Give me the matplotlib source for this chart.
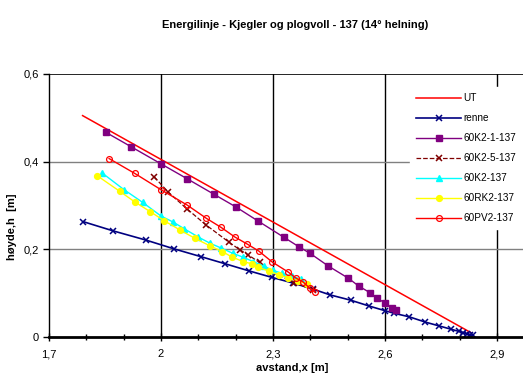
import matplotlib
matplotlib.use('Agg')
import matplotlib.pyplot as plt
from matplotlib.ticker import FixedLocator, MultipleLocator, FuncFormatter

plt.rcParams['font.family'] = ['Liberation Sans', 'DejaVu Sans']

# energy line (UT)
ut_x = [1.790, 2.830]
ut_y = [0.505, 0.010]

renne_x = [1.792, 1.872, 1.960, 2.035, 2.108, 2.172, 2.235, 2.297, 2.354, 2.408,
           2.453, 2.508, 2.556, 2.600, 2.625, 2.665, 2.708, 2.746, 2.776, 2.797,
           2.810, 2.819, 2.828, 2.835]
renne_y = [0.263, 0.242, 0.221, 0.201, 0.183, 0.167, 0.151, 0.136, 0.123, 0.109,
           0.096, 0.084, 0.071, 0.060, 0.054, 0.046, 0.034, 0.025, 0.018, 0.013,
           0.010, 0.007, 0.005, 0.004]

k21_x = [1.852, 1.920, 2.000, 2.070, 2.141, 2.200, 2.261, 2.330, 2.371, 2.399,
         2.448, 2.502, 2.530, 2.560, 2.579, 2.600, 2.618, 2.630]
k21_y = [0.467, 0.434, 0.395, 0.361, 0.326, 0.297, 0.264, 0.227, 0.205, 0.191,
         0.162, 0.134, 0.116, 0.101, 0.088, 0.078, 0.065, 0.062]

k25_x = [1.982, 2.020, 2.070, 2.120, 2.181, 2.211, 2.234, 2.264, 2.296, 2.357, 2.408]
k25_y = [0.365, 0.330, 0.292, 0.256, 0.217, 0.199, 0.187, 0.170, 0.149, 0.124, 0.107]

k2_x = [1.841, 1.901, 1.951, 2.000, 2.033, 2.062, 2.100, 2.131, 2.161, 2.192,
        2.220, 2.247, 2.275, 2.300, 2.325, 2.350, 2.375]
k2_y = [0.375, 0.336, 0.307, 0.276, 0.262, 0.247, 0.228, 0.214, 0.203, 0.191,
        0.182, 0.172, 0.162, 0.152, 0.145, 0.139, 0.132]

rk2_x = [1.829, 1.890, 1.930, 1.971, 2.009, 2.051, 2.091, 2.131, 2.164, 2.189,
         2.220, 2.243, 2.261, 2.290, 2.316, 2.340, 2.368, 2.392]
rk2_y = [0.368, 0.332, 0.308, 0.286, 0.265, 0.244, 0.225, 0.208, 0.195, 0.183,
         0.172, 0.167, 0.159, 0.150, 0.142, 0.135, 0.127, 0.122]

pv2_x = [1.861, 1.930, 2.000, 2.070, 2.121, 2.161, 2.198, 2.231, 2.262, 2.298,
         2.341, 2.362, 2.380, 2.399, 2.413]
pv2_y = [0.407, 0.373, 0.336, 0.301, 0.271, 0.250, 0.228, 0.212, 0.196, 0.171,
         0.148, 0.134, 0.126, 0.111, 0.103]

x_ticks = [1.7, 2.0, 2.3, 2.6, 2.9]
y_ticks = [0.0, 0.2, 0.4, 0.6]

fig = plt.figure(figsize=(5.23, 3.78), dpi=100)
ax = fig.add_axes([0.0937, 0.1085, 1.0 - 0.0937, 0.6958])

ax.plot(ut_x, ut_y, color='red', lw=1.1, label='UT')
ax.plot(renne_x, renne_y, color='#000080', lw=1.2, marker='x', ms=4.5, mew=1.1, label='renne')
ax.plot(k21_x, k21_y, color='#800080', lw=1.0, marker='s', ms=4, label='60K2-1-137')
ax.plot(k25_x, k25_y, color='#800000', lw=0.9, ls='--', marker='x', ms=4.5, mew=1.1,
        label='60K2-5-137')
ax.plot(k2_x, k2_y, color='#00FFFF', lw=1.0, marker='^', ms=4.2, label='60K2-137')
ax.plot(rk2_x, rk2_y, color='#FFFF00', lw=1.0, marker='o', ms=4.2, label='60RK2-137')
ax.plot(pv2_x, pv2_y, color='red', lw=1.0, marker='o', ms=4.2, mfc='none', mew=0.9,
        label='60PV2-137')

ax.set_xlim(1.7, 1.7 + 474 / 373.3)
ax.set_ylim(0, 0.6)

ax.xaxis.set_major_locator(FixedLocator(x_ticks))
ax.xaxis.set_minor_locator(MultipleLocator(0.1))
ax.yaxis.set_major_locator(FixedLocator(y_ticks))

def comma(v, pos):
    return ('%g' % round(v, 2)).replace('.', ',')

ax.xaxis.set_major_formatter(FuncFormatter(comma))
ax.yaxis.set_major_formatter(FuncFormatter(comma))

for xv in x_ticks[1:]:
    ax.axvline(xv, color='black', lw=1.0, zorder=0)
for yv in y_ticks[1:3]:
    ax.axhline(yv, color='#808080', lw=1.0, zorder=0)
ax.axhline(0.6, color='black', lw=1.2, zorder=0)

ax.spines['right'].set_visible(False)
ax.spines['top'].set_visible(False)
ax.spines['left'].set_linewidth(1.0)
ax.spines['bottom'].set_linewidth(2.0)

ax.tick_params(axis='x', which='major', direction='inout', length=6, width=1, labelsize=8, pad=6)
ax.tick_params(axis='x', which='minor', direction='inout', length=5, width=1)
ax.tick_params(axis='y', which='major', direction='out', length=4, width=1, labelsize=8)

ax.set_title('Energilinje - Kjegler og plogvoll - 137 (14° helning)', fontsize=8,
             fontweight='bold', pad=33, x=0.52)
ax.set_xlabel('avstand,x [m]', fontsize=8, fontweight='bold')
ax.set_ylabel('høyde,h  [m]', fontsize=8, fontweight='bold')
ax.xaxis.set_label_coords(0.512, -0.1)
ax.yaxis.set_label_coords(-0.068, 0.42)

leg = fig.legend(loc='upper left', bbox_to_anchor=(405 / 523, 1 - 82 / 378),
                 fontsize=7.2, frameon=True, handlelength=4.5, labelspacing=1.0,
                 borderpad=0.6, handletextpad=0.2)
leg.get_frame().set_edgecolor('white')
leg.get_frame().set_facecolor('white')
leg.get_frame().set_alpha(1.0)

fig.savefig('out.png', dpi=100)
plt.close()
